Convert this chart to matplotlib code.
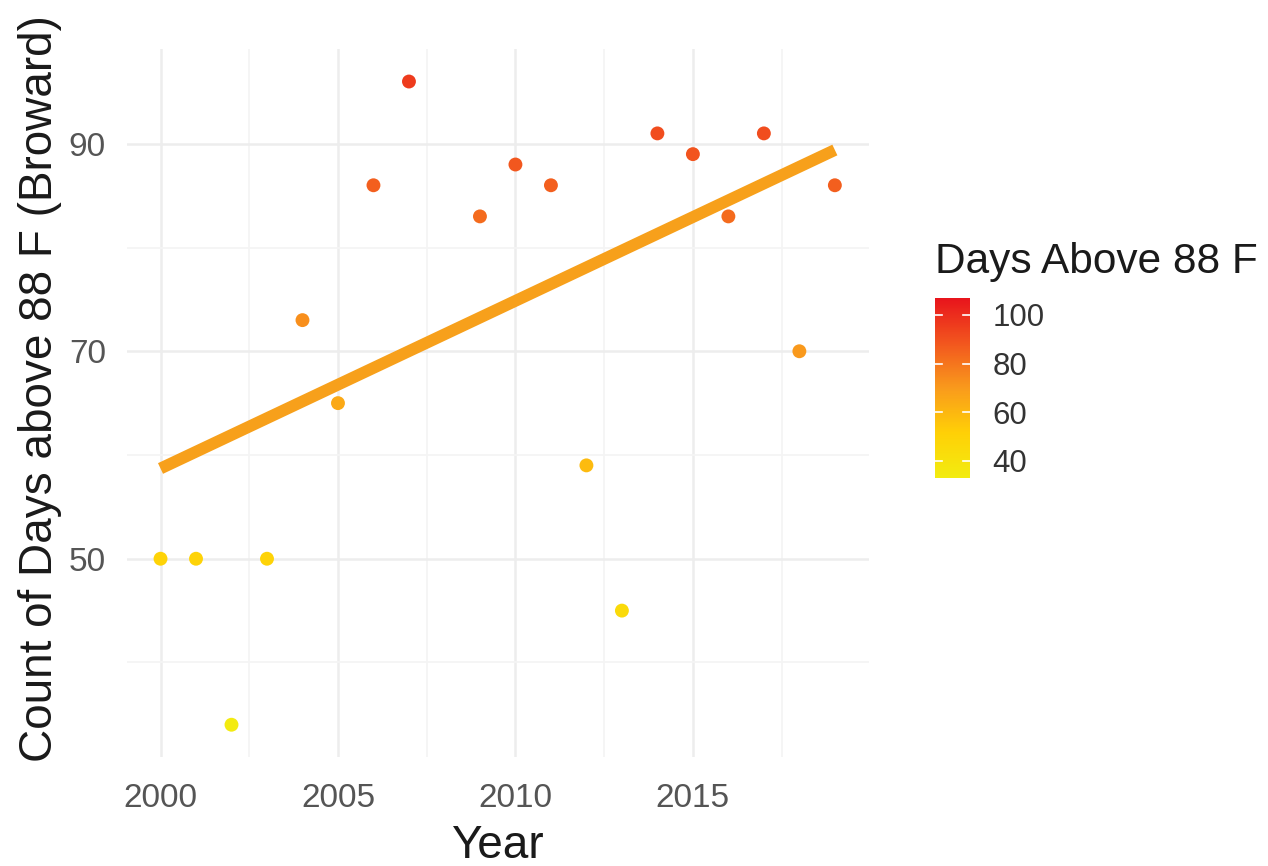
import numpy as np
import matplotlib
matplotlib.use("Agg")
import matplotlib.pyplot as plt
from matplotlib.colors import LinearSegmentedColormap, Normalize
from matplotlib.cm import ScalarMappable
from matplotlib.ticker import MultipleLocator, FixedLocator

plt.rcParams['font.family'] = ['Liberation Sans', 'DejaVu Sans']

# ---- data ----
years = [2000, 2001, 2002, 2003, 2004, 2005, 2006, 2007, 2009, 2010,
         2011, 2012, 2013, 2014, 2015, 2016, 2017, 2018, 2019]
days = [50, 50, 34, 50, 73, 65, 86, 96, 83, 88,
        86, 59, 45, 91, 89, 83, 91, 70, 86]
trend_years = [2000, 2019]
trend_days = [58.7, 89.4]
x_ticks = [2000, 2005, 2010, 2015]
y_ticks = [50, 70, 90]
cbar_ticks = [40, 60, 80, 100]
color_limits = [33, 107]

cmap = LinearSegmentedColormap.from_list(
    "ylrd", [(0.0, '#F2EC10'), (0.25, '#FFD006'), (0.5, '#F99A1C'),
             (0.75, '#F2561E'), (1.0, '#E8141C')])
norm = Normalize(vmin=color_limits[0], vmax=color_limits[1])

fig = plt.figure(figsize=(12.68, 8.66), dpi=100)
ax = fig.add_axes([0.100, 0.126, 0.585, 0.817])

ax.scatter(years, days, c=days, cmap=cmap, norm=norm, s=100,
           linewidths=0, zorder=3)
ax.plot(trend_years, trend_days, color='#F7A01B', lw=8.5,
        solid_capstyle='butt', zorder=4)

rng = max(years) - min(years)
ax.set_xlim(min(years) - 0.05 * rng, max(years) + 0.05 * rng)
yr = max(days) - min(days)
ax.set_ylim(min(days) - 0.05 * yr, max(days) + 0.05 * yr)

ax.xaxis.set_major_locator(FixedLocator(x_ticks))
ax.xaxis.set_minor_locator(MultipleLocator(2.5))
ax.yaxis.set_major_locator(FixedLocator(y_ticks))
ax.yaxis.set_minor_locator(MultipleLocator(10))

ax.grid(which='major', color='#EDEDED', lw=1.8, zorder=0)
ax.grid(which='minor', color='#F4F4F4', lw=1.3, zorder=0)
ax.set_axisbelow(True)
for s in ax.spines.values():
    s.set_visible(False)
ax.tick_params(which='both', length=0)
ax.tick_params(axis='x', labelsize=24, labelcolor='#555555', pad=19)
ax.tick_params(axis='y', labelsize=24, labelcolor='#555555', pad=15)

ax.set_xlabel('Year', fontsize=33, color='#1a1a1a', labelpad=7)
ax.set_ylabel('Count of Days above 88 F (Broward)', fontsize=33,
              color='#1a1a1a')
ax.yaxis.set_label_coords(-0.087, 0.52)

# colour bar legend
cax = fig.add_axes([0.7375, 0.448, 0.0276, 0.208])
sm = ScalarMappable(norm=norm, cmap=cmap)
cb = fig.colorbar(sm, cax=cax, ticks=cbar_ticks)
cb.outline.set_visible(False)
cax.tick_params(length=0, labelsize=22.5, labelcolor='#333333', pad=16)
for t in cbar_ticks:
    cax.plot([0, 0.2], [t, t], color='white', lw=1.2,
             transform=cax.get_yaxis_transform())
    cax.plot([0.8, 1.0], [t, t], color='white', lw=1.2,
             transform=cax.get_yaxis_transform())
fig.text(0.737, 0.697, 'Days Above 88 F', fontsize=30.5, color='#1a1a1a',
         ha='left', va='center')

fig.savefig('out.png', dpi=100, facecolor='white')
